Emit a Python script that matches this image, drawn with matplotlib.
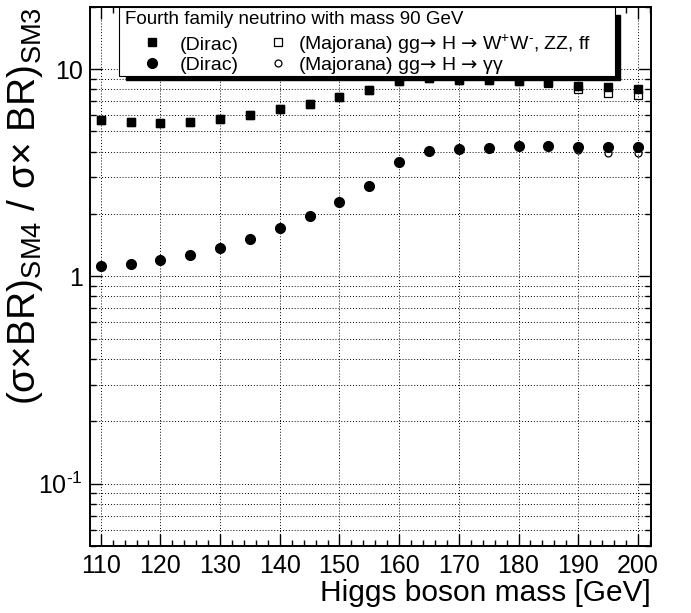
import matplotlib
matplotlib.use("Agg")
import matplotlib.pyplot as plt
from matplotlib.patches import Rectangle
from matplotlib.ticker import FixedLocator, FixedFormatter, MultipleLocator, LogLocator, NullFormatter

plt.rcParams['font.family'] = ['Liberation Sans', 'DejaVu Sans']
plt.rcParams['mathtext.fontset'] = 'custom'
plt.rcParams['mathtext.rm'] = 'Liberation Sans'
plt.rcParams['mathtext.it'] = 'Liberation Sans:italic'
plt.rcParams['mathtext.bf'] = 'Liberation Sans:bold'
plt.rcParams['mathtext.sf'] = 'DejaVu Sans'

# Higgs masses [GeV]
mass = [110, 115, 120, 125, 130, 135, 140, 145, 150, 155,
        160, 165, 170, 175, 180, 185, 190, 195, 200]
# ratio for gg -> H -> WW, ZZ, ff
dirac_ww = [5.65, 5.55, 5.52, 5.58, 5.75, 6.01, 6.42, 6.82, 7.35, 7.96,
            8.80, 9.02, 8.90, 8.88, 8.78, 8.68, 8.32, 8.17, 8.00]
majorana_ww = [5.65, 5.55, 5.52, 5.58, 5.75, 6.01, 6.42, 6.82, 7.35, 7.96,
               8.80, 9.02, 8.90, 8.88, 8.78, 8.55, 8.03, 7.70, 7.53]
# ratio for gg -> H -> gamma gamma
dirac_gg = [1.125, 1.151, 1.20, 1.27, 1.375, 1.52, 1.71, 1.96, 2.28, 2.74,
            3.57, 4.03, 4.10, 4.18, 4.26, 4.25, 4.20, 4.20, 4.20]
majorana_gg = [1.125, 1.151, 1.20, 1.27, 1.375, 1.52, 1.71, 1.96, 2.28, 2.74,
               3.57, 4.03, 4.10, 4.18, 4.26, 4.25, 4.08, 3.95, 3.93]

ytick_vals = [0.1, 1, 10]
ytick_labels = [r'$\mathregular{10^{\text{-}1}}$', '1', '10']

legend_title = 'Fourth family neutrino with mass 90 GeV'
arrow = r'$\mathsf{→}$'
legend_labels = ['(Dirac)', '(Dirac)',
                 '(Majorana) gg' + arrow + ' H ' + arrow + r' W$^{+}$W$^{\text{-}}$, ZZ, ff',
                 '(Majorana) gg' + arrow + ' H ' + arrow + ' γγ']

# marker styles: filled square, filled circle, open square, open circle
sty_dww = dict(ls='none', marker='s', ms=6.3, color='black')
sty_dgg = dict(ls='none', marker='o', ms=7.0, color='black')
sty_mww = dict(ls='none', marker='s', ms=5.6, mfc='none', mec='black', mew=0.9)
sty_mgg = dict(ls='none', marker='o', ms=5.0, mfc='none', mec='black', mew=0.9)

fig = plt.figure(figsize=(6.91, 6.13), dpi=100)
ax = fig.add_axes([90/691, 1-546/613, 561/691, 539.3/613])

ax.plot(mass, dirac_ww, **sty_dww)
ax.plot(mass, dirac_gg, **sty_dgg)
ax.plot(mass, majorana_ww, **sty_mww)
ax.plot(mass, majorana_gg, **sty_mgg)

ax.set_yscale('log')
ax.set_xlim(108.2, 202.2)
ax.set_ylim(0.05, 20)

ax.xaxis.set_major_locator(MultipleLocator(10))
ax.xaxis.set_minor_locator(MultipleLocator(2))
ax.yaxis.set_major_locator(FixedLocator(ytick_vals))
ax.yaxis.set_major_formatter(FixedFormatter(ytick_labels))
ax.yaxis.set_minor_locator(LogLocator(base=10, subs=range(2, 10)))
ax.yaxis.set_minor_formatter(NullFormatter())

ax.tick_params(which='both', direction='in', top=True, right=True, width=1.0)
ax.tick_params(which='major', length=8.5, labelsize=18)
ax.tick_params(which='minor', length=4.5)
ax.tick_params(axis='x', pad=6)
ax.tick_params(axis='y', pad=5)

ax.grid(True, which='major', axis='x', color='black', ls=(0, (1, 2)), lw=0.7)
ax.grid(True, which='both', axis='y', color='black', ls=(0, (1, 2)), lw=0.7)
for s in ax.spines.values():
    s.set_linewidth(1.4)

ax.set_xlabel('Higgs boson mass [GeV]', fontsize=21.5, loc='right')
ax.xaxis.set_label_coords(1.0, -0.062)
ax.set_ylabel(r'(σ×BR)$_{\mathrm{SM4}}$ / σ× BR)$_{\mathrm{SM3}}$', fontsize=28, loc='top')
ax.yaxis.set_label_coords(-0.080, 1.0)

# ROOT-style legend box with a solid shadow (axes fraction coordinates)
tr = ax.transAxes
ax.add_patch(Rectangle((0.0642, 0.8641), 0.8805, 0.1205, transform=tr,
                       facecolor='black', edgecolor='black', zorder=5, clip_on=False))
ax.add_patch(Rectangle((0.0517, 0.8715), 0.8841, 0.1279, transform=tr,
                       facecolor='white', edgecolor='black', lw=0.8, zorder=5.1,
                       clip_on=False))
ax.text(0.0624, 0.9679, legend_title, transform=tr, fontsize=13.5,
        ha='left', va='baseline', zorder=6)
key_x = [0.1105, 0.1105, 0.3351, 0.3351]
text_x = [0.1604, 0.1604, 0.3708, 0.3708]
row_y = [0.9337, 0.8956, 0.9337, 0.8956]
base_y = [0.9206, 0.8826, 0.9206, 0.8826]
for sty, kx, tx, ry, by, lab in zip([sty_dww, sty_dgg, sty_mww, sty_mgg],
                                    key_x, text_x, row_y, base_y, legend_labels):
    ax.plot([kx], [ry], transform=tr, clip_on=False, zorder=6, **sty)
    ax.text(tx, by, lab, transform=tr, fontsize=14, ha='left', va='baseline', zorder=6)

fig.savefig('out.png', dpi=100)
